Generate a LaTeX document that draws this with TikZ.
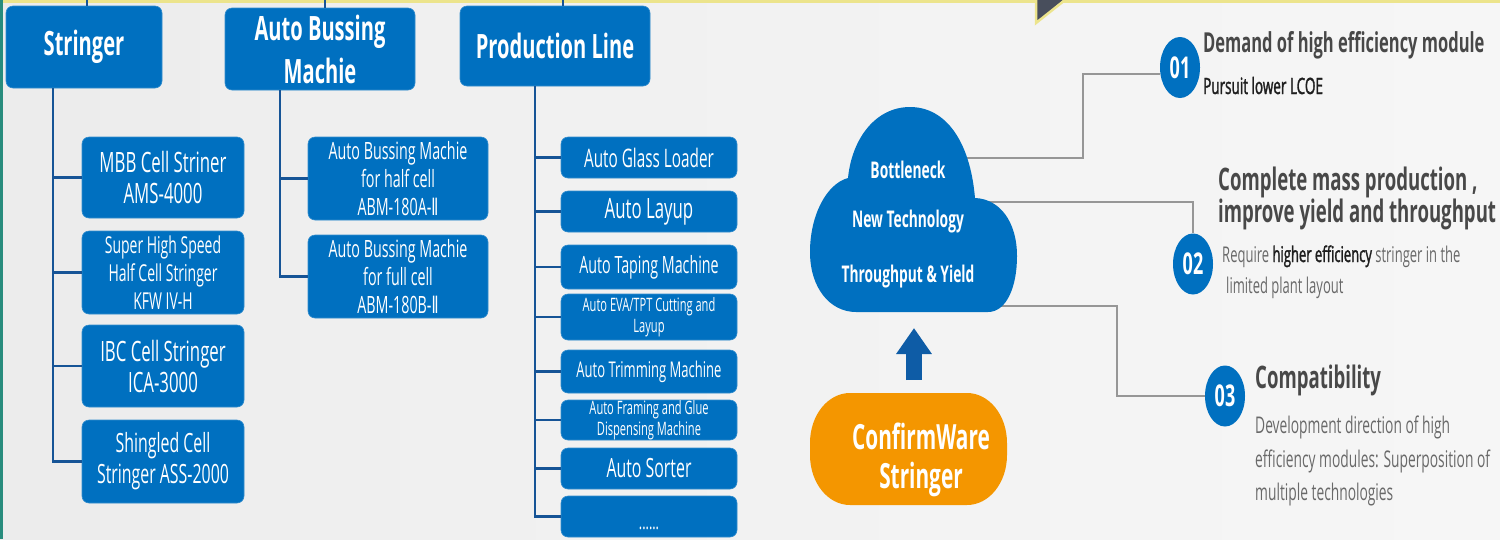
\documentclass[tikz,border=0pt]{standalone}
\usepackage{fontspec}
\setmainfont{Open Sans}[FakeStretch=0.6]
\newfontfamily\semif{Open Sans}[FakeStretch=0.6,FakeBold=1.4]
\newfontfamily\dvfont{DejaVu Sans}[FakeStretch=0.6]
\usetikzlibrary{arrows.meta,shapes.geometric}
\definecolor{boxblue}{RGB}{0,112,192}
\definecolor{trunkblue}{RGB}{22,84,150}
\definecolor{arrowblue}{RGB}{14,92,166}
\definecolor{orangeW}{RGB}{244,150,0}
\definecolor{headgray}{RGB}{72,72,72}
\definecolor{bodygray}{RGB}{105,105,105}
\definecolor{darktext}{RGB}{30,30,30}
\definecolor{linegray}{RGB}{150,150,150}
\definecolor{topyellow}{RGB}{236,228,140}
\definecolor{edgeteal}{RGB}{40,140,125}
\definecolor{slate}{RGB}{72,78,92}
\definecolor{bgL}{RGB}{228,228,228}
\definecolor{bgM}{RGB}{240,240,240}
\definecolor{bgW}{RGB}{247,247,247}
\definecolor{bgR}{RGB}{234,234,234}
\pgfdeclarehorizontalshading{bgshade}{100bp}{color(0bp)=(bgL); color(40bp)=(bgM); color(80bp)=(bgW); color(100bp)=(bgR)}
\pgfdeclarelayer{back}
\pgfdeclarelayer{lines}
\pgfsetlayers{back,lines,main}
\newcommand\fsz[2]{\fontsize{#1}{#2}\selectfont}
\begin{document}
\begin{tikzpicture}[x=1pt,y=-1pt,
  box/.style={fill=boxblue, draw=boxblue!80!white, line width=0.6pt, rounded corners=7pt, text=white, align=center, inner sep=0pt},
  trunk/.style={draw=trunkblue, line width=2.6pt},
  stub/.style={draw=trunkblue, line width=1.4pt},
  gline/.style={draw=linegray, line width=1.6pt},
  numc/.style={ellipse, fill=boxblue, text=white, inner sep=0pt, minimum width=40pt, minimum height=61pt, font=\bfseries\fsz{30}{30}},
  rt/.style={anchor=base west, inner sep=0pt},
  ttlf/.style={font=\bfseries\fsz{33.5}{43}},
  cloudt/.style={text=white, font=\bfseries\fsz{23}{23}, inner sep=0pt}
  ]
\useasboundingbox (0,0) rectangle (1500,539);
\begin{pgfonlayer}{back}
\shade[shading=bgshade] (0,0) rectangle (1500,539);
\fill[topyellow] (0,0) rectangle (1500,3);
\fill[edgeteal] (0,0) rectangle (2.5,539);
\fill[slate] (1037,0) -- (1037,22) -- (1063,0) -- cycle;
\draw[topyellow, line width=2.5pt] (1036,0) -- (1036,23) -- (1065,0);
\end{pgfonlayer}

% ---------- top level boxes
\node[box, ttlf, minimum width=156pt, minimum height=82pt] (st) at (84,47) {Stringer};
\node[box, ttlf, minimum width=190pt, minimum height=82pt] (ab) at (320,49) {Auto Bussing\\Machie};
\node[box, ttlf, minimum width=190pt, minimum height=80pt] (pl) at (555,46) {Production Line};

\coordinate (stTop) at (87,0);
\coordinate (abTop) at (325,0);
\coordinate (plTop) at (563,0);
\draw[stub] (stTop) -- (stTop |- st.north);
\draw[stub] (abTop) -- (abTop |- ab.north);
\draw[stub] (plTop) -- (plTop |- pl.north);

% ---------- stringer children
\node[box, minimum width=162pt, minimum height=81pt, font=\fsz{28}{31}] (s1) at (163,177.5) {MBB Cell Striner\\AMS-4000};
\node[box, minimum width=162pt, minimum height=83pt, font=\fsz{23.3}{28}] (s2) at (163,272.5) {Super High Speed\\Half Cell Stringer\\KFW IV-H};
\node[box, minimum width=162pt, minimum height=82pt, font=\fsz{28}{31}] (s3) at (163,366) {IBC Cell Stringer\\ICA-3000};
\node[box, minimum width=162pt, minimum height=83pt, font=\fsz{26.5}{31}] (s4) at (163,461.5) {Shingled Cell\\Stringer ASS-2000};

\coordinate (sT) at (53,88);
\draw[trunk] (sT) |- (s4.west);
\foreach \n in {s1,s2,s3} \draw[trunk] (\n.west) -- (\n.west -| sT);

% ---------- auto bussing children
\node[box, minimum width=180pt, minimum height=83pt, font=\fsz{23.8}{28}] (a1) at (398,178.5) {Auto Bussing Machie\\for half cell\\ABM-180A-{\dvfont Ⅱ}};
\node[box, minimum width=180pt, minimum height=83pt, font=\fsz{23.8}{28}] (a2) at (398,276.5) {Auto Bussing Machie\\for full cell\\ABM-180B-{\dvfont Ⅱ}};

\coordinate (aT) at (280,90);
\draw[trunk] (aT) |- (a2.west);
\draw[trunk] (a1.west) -- (a1.west -| aT);

% ---------- production line children
\node[box, minimum width=176pt, minimum height=41pt, font=\fsz{25.5}{28}] (p1) at (649,157.5) {Auto Glass Loader};
\node[box, minimum width=176pt, minimum height=41pt, font=\fsz{28}{30}] (p2) at (649,211.5) {Auto Layup};
\node[box, minimum width=176pt, minimum height=44pt, font=\fsz{23.8}{28}] (p3) at (649,267) {Auto Taping Machine};
\node[box, minimum width=176pt, minimum height=46pt, font=\fsz{18.5}{21}] (p4) at (649,317) {Auto EVA/TPT Cutting and\\Layup};
\node[box, minimum width=176pt, minimum height=43pt, font=\fsz{21.7}{26}] (p5) at (649,371.5) {Auto Trimming Machine};
\node[box, minimum width=176pt, minimum height=40pt, font=\fsz{18.5}{21}] (p6) at (649,420) {Auto Framing and Glue\\Dispensing Machine};
\node[box, minimum width=176pt, minimum height=41pt, font=\fsz{26.5}{28}] (p7) at (649,468.5) {Auto Sorter};
\node[box, minimum width=176pt, minimum height=41pt] (p8) at (649,516.5) {};
\node[anchor=base, inner sep=0pt, text=white, font=\fsz{21}{21}] (p8t) at (649,529) {......};

\coordinate (pT) at (535,86);
\draw[trunk] (pT) |- (p8.west);
\foreach \n in {p1,p2,p3,p4,p5,p6,p7} \draw[trunk] (\n.west) -- (\n.west -| pT);

% ---------- numbered ellipses and connectors from the cloud
\node[numc] (n1) at (1180,67.5) {01};
\node[numc] (n2) at (1193,264) {02};
\node[numc] (n3) at (1225,396) {03};
\coordinate (cA) at (955,158);
\coordinate (cB) at (965,202);
\coordinate (cC) at (985,306);
\coordinate (k1) at (1083,74);
\coordinate (k3) at (1117,396);
\begin{pgfonlayer}{lines}
\draw[gline] (cA) -| (k1) -- (k1 -| n1.west);
\draw[gline] (cB) -| (n2.north);
\draw[gline] (cC) -| (k3) -- (n3.west);
\end{pgfonlayer}

% ---------- cloud
\fill[boxblue] (856,312) -- (988,312)
  .. controls (1006,312) and (1017,288) .. (1017,256)
  .. controls (1017,222) and (1000,199) .. (975,198)
  .. controls (970,140) and (945,107) .. (910,107)
  .. controls (876,107) and (852,138) .. (848,178)
  .. controls (826,184) and (810,216) .. (810,252)
  .. controls (810,288) and (830,312) .. (856,312) -- cycle;
\node[cloudt] (cl1) at (908,170) {Bottleneck};
\node[cloudt] (cl2) at (908,222) {New Technology};
\node[cloudt] (cl3) at (908,277) {Throughput \& Yield};

% ---------- up arrow
\coordinate (arB) at (914,380);
\coordinate (arT) at (914,328);
\draw[arrowblue, line width=16pt, -{Triangle[length=26pt,width=34pt]}] (arB) -- (arT);

% ---------- ConfirmWare box
\fill[orangeW] (850,393) -- (967,393)
  .. controls (989,393) and (1007,415) .. (1007,443) -- (1007,455)
  .. controls (1007,483) and (989,505) .. (967,505) -- (850,505)
  .. controls (828,505) and (810,483) .. (810,455) -- (810,443)
  .. controls (810,415) and (828,393) .. (850,393) -- cycle;
\node[text=white, font=\bfseries\fsz{34.7}{34.7}, inner sep=0pt] (cw1) at (921,436) {ConfirmWare};
\node[text=white, font=\bfseries\fsz{34.7}{34.7}, inner sep=0pt] (cw2) at (921,479) {Stringer};

% ---------- right texts
\node[rt, text=headgray, font=\bfseries\fsz{27.5}{30}] (d1) at (1203,52) {Demand of high efficiency module};
\node[rt, text=darktext, font=\semif\fsz{22.5}{24}] (d1b) at (1203,94) {Pursuit lower LCOE};
\node[rt, text=headgray, font=\bfseries\fsz{31}{32}] (d2) at (1218,190) {Complete mass production ,};
\node[rt, text=headgray, font=\bfseries\fsz{31}{32}] (d2b) at (1218,222) {improve yield and throughput};
\node[rt, text=bodygray, font=\fsz{21.7}{24}] (d2c) at (1222,262) {Require {\semif\color{darktext}higher efficiency} stringer in the};
\node[rt, text=bodygray, font=\fsz{21.7}{24}] (d2d) at (1226,293) {limited plant layout};
\node[rt, text=headgray, font=\bfseries\fsz{31}{32}] (d3) at (1255,388) {Compatibility};
\node[rt, text=bodygray, font=\fsz{23}{24}] (d3b) at (1255,433) {Development direction of high};
\node[rt, text=bodygray, font=\fsz{23}{24}] (d3c) at (1255,467) {efficiency modules: Superposition of};
\node[rt, text=bodygray, font=\fsz{23}{24}] (d3d) at (1255,500) {multiple technologies};
\end{tikzpicture}
\end{document}
